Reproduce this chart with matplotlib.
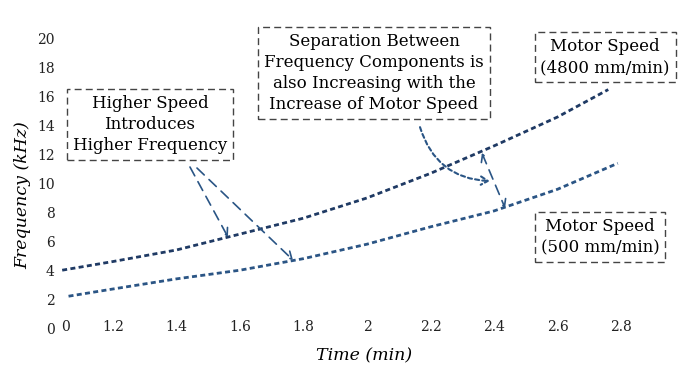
import matplotlib
matplotlib.use("Agg")
import matplotlib.pyplot as plt

# Values
time_high = [1.04, 1.2, 1.4, 1.6, 1.8, 2.0, 2.2, 2.4, 2.6, 2.76]
freq_high = [4.0, 4.6, 5.4, 6.5, 7.6, 9.0, 10.7, 12.6, 14.6, 16.5]
time_low = [1.06, 1.2, 1.4, 1.6, 1.8, 2.0, 2.2, 2.4, 2.6, 2.79]
freq_low = [2.2, 2.7, 3.4, 4.0, 4.8, 5.8, 7.0, 8.1, 9.6, 11.4]

x_ticks = [1.05, 1.2, 1.4, 1.6, 1.8, 2.0, 2.2, 2.4, 2.6, 2.8]
x_tick_labels = ["0", "1.2", "1.4", "1.6", "1.8", "2", "2.2", "2.4", "2.6", "2.8"]
y_ticks = [0, 2, 4, 6, 8, 10, 12, 14, 16, 18, 20]

SERIF = ["DejaVu Serif"]
HIGH_COLOR = "#1f3a64"
LOW_COLOR = "#2b5585"
ARROW_COLOR = "#2a5585"

plt.rcParams["font.family"] = SERIF

fig = plt.figure(figsize=(6.83, 3.71), dpi=100)
ax = fig.add_axes([0.0864, 0.1159, 0.8925, 0.779])

ax.plot(time_high, freq_high, color=HIGH_COLOR, lw=2.0, linestyle=(0, (1.8, 1.2)))
ax.plot(time_low, freq_low, color=LOW_COLOR, lw=2.0, linestyle=(0, (1.8, 1.2)))

ax.set_xlim(1.03, 2.95)
ax.set_ylim(0, 20)
ax.set_xticks(x_ticks)
ax.set_xticklabels(x_tick_labels)
ax.set_yticks(y_ticks)
for side in ax.spines.values():
    side.set_visible(False)
ax.tick_params(axis="both", length=0, labelsize=10, colors="#222222")
ax.tick_params(axis="x", pad=-6)
ax.tick_params(axis="y", pad=3)

ax.set_xlabel("Time (min)", fontsize=12.5, style="italic", labelpad=10)
ax.set_ylabel("Frequency (kHz)", fontsize=12.5, style="italic")
ax.yaxis.set_label_coords(-0.045, 0.46)

box = dict(boxstyle="square,pad=0.35", fc="white", ec="#444444", lw=1.0, linestyle=(0, (5, 3)))
text_kw = dict(fontsize=12, ha="center", va="center", linespacing=1.32, bbox=box, zorder=5)

arrow_dashed = dict(arrowstyle="->,head_length=0.5,head_width=0.3", color=ARROW_COLOR,
                    lw=1.2, linestyle=(0, (6, 4)), shrinkA=0, shrinkB=0)

ax.text(1.3165, 14.1, "Higher Speed\nIntroduces\nHigher Frequency", **text_kw)
ax.annotate("", xy=(1.562, 6.3), xytext=(1.4425, 11.14), arrowprops=arrow_dashed)
ax.annotate("", xy=(1.767, 4.7), xytext=(1.4646, 11.07), arrowprops=arrow_dashed)

ax.text(2.022, 17.65, "Separation Between\nFrequency Components is\nalso Increasing with the\nIncrease of Motor Speed",
        **text_kw)
ax.annotate("", xy=(2.387, 10.17), xytext=(2.167, 13.9),
            arrowprops=dict(arrowstyle="->,head_length=0.5,head_width=0.3", color=ARROW_COLOR,
                            lw=1.5, linestyle=(0, (2, 1.5)), shrinkA=0, shrinkB=0,
                            connectionstyle="arc3,rad=0.35"))
ax.annotate("", xy=(2.435, 8.3), xytext=(2.362, 12.11),
            arrowprops=dict(arrowstyle="<->,head_length=0.5,head_width=0.3", color=ARROW_COLOR,
                            lw=1.2, linestyle=(0, (6, 4)), shrinkA=0, shrinkB=0))

ax.text(2.750, 18.75, "Motor Speed\n(4800 mm/min)", **text_kw)
ax.text(2.734, 6.3, "Motor Speed\n(500 mm/min)", **text_kw)

fig.savefig("out.png", dpi=100)
